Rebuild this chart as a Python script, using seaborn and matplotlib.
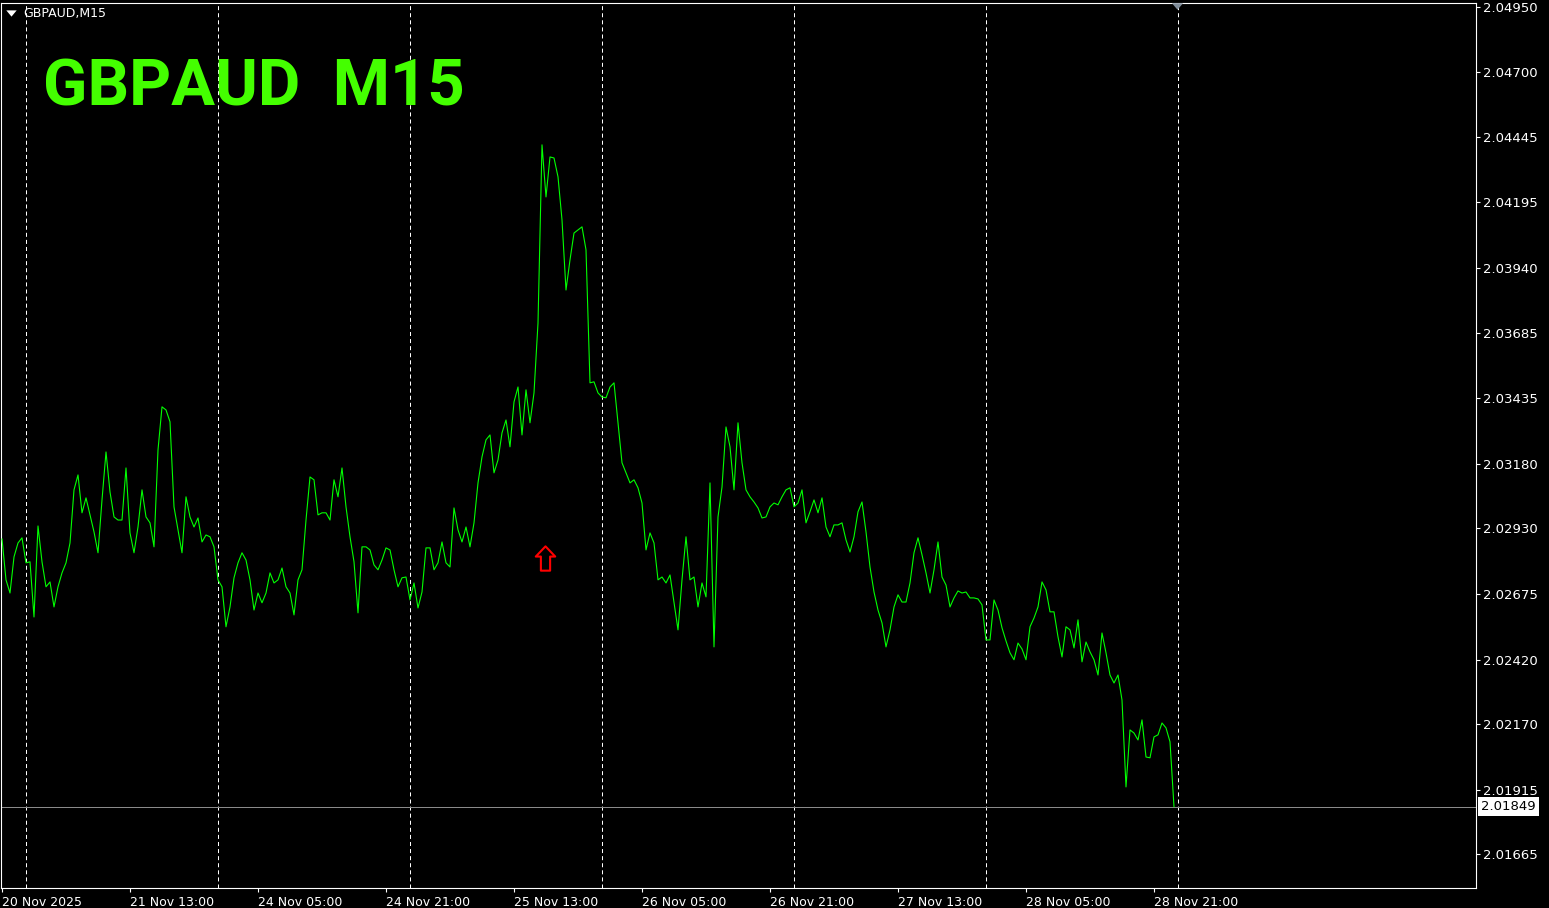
import numpy as np
import pandas as pd
import matplotlib
matplotlib.use("Agg")
import matplotlib.pyplot as plt
import matplotlib.transforms as mtransforms
from matplotlib.path import Path
import seaborn as sns

# ---------------- data ----------------
symbol_label = "GBPAUD,M15"
title_text = "GBPAUD  M15"

# close price sampled every 30 minutes (every 2nd M15 bar), 20 Nov 21:00 .. 28 Nov 23:30
close = [
    2.02888, 2.02729, 2.02678, 2.02818, 2.02872, 2.02892, 2.02795, 2.02799, 2.02585, 2.02938,
    2.02799, 2.02702, 2.02721, 2.02624, 2.02702, 2.02756, 2.02795, 2.02872, 2.03078, 2.03136,
    2.02989, 2.03047, 2.02981, 2.02915, 2.02834, 2.03039, 2.03225, 2.03070, 2.02973, 2.02961,
    2.02961, 2.03163, 2.02911, 2.02834, 2.02934, 2.03078, 2.02973, 2.02950, 2.02857, 2.03233,
    2.03400, 2.03388, 2.03342, 2.03012, 2.02923, 2.02834, 2.03051, 2.02973, 2.02934, 2.02969,
    2.02876, 2.02903, 2.02896, 2.02857, 2.02729, 2.02702, 2.02547, 2.02624, 2.02737, 2.02795,
    2.02834, 2.02806, 2.02729, 2.02612, 2.02678, 2.02640, 2.02678, 2.02756, 2.02717, 2.02729,
    2.02775, 2.02702, 2.02678, 2.02593, 2.02729, 2.02768, 2.02961, 2.03128, 2.03117, 2.02981,
    2.02989, 2.02989, 2.02961, 2.03117, 2.03051, 2.03163, 2.03012, 2.02896, 2.02799, 2.02601,
    2.02857, 2.02857, 2.02845, 2.02787, 2.02768, 2.02806, 2.02853, 2.02845, 2.02768, 2.02702,
    2.02737, 2.02740, 2.02651, 2.02717, 2.02620, 2.02682, 2.02853, 2.02853, 2.02768, 2.02795,
    2.02876, 2.02795, 2.02779, 2.03008, 2.02923, 2.02876, 2.02934, 2.02857, 2.02950, 2.03105,
    2.03206, 2.03272, 2.03291, 2.03144, 2.03194, 2.03299, 2.03349, 2.03245, 2.03419, 2.03477,
    2.03291, 2.03466, 2.03338, 2.03454, 2.03725, 2.04416, 2.04214, 2.04369, 2.04365, 2.04292,
    2.04125, 2.03853, 2.03970, 2.04074, 2.04086, 2.04098, 2.04009, 2.03493, 2.03497, 2.03454,
    2.03438, 2.03435, 2.03477, 2.03493, 2.03338, 2.03183, 2.03144, 2.03105, 2.03117, 2.03086,
    2.03027, 2.02845, 2.02911, 2.02872, 2.02729, 2.02740, 2.02717, 2.02748, 2.02640, 2.02535,
    2.02729, 2.02896, 2.02729, 2.02740, 2.02624, 2.02717, 2.02663, 2.03105, 2.02469, 2.02973,
    2.03089, 2.03322, 2.03245, 2.03078, 2.03338, 2.03183, 2.03078, 2.03051, 2.03031, 2.03008,
    2.02969, 2.02973, 2.03012, 2.03027, 2.03020, 2.03051, 2.03078, 2.03086, 2.03012, 2.03027,
    2.03078, 2.02950, 2.02993, 2.03039, 2.02989, 2.03047, 2.02934, 2.02896, 2.02942, 2.02942,
    2.02950, 2.02884, 2.02837, 2.02896, 2.02993, 2.03031, 2.02915, 2.02779, 2.02682, 2.02612,
    2.02562, 2.02469, 2.02535, 2.02624, 2.02671, 2.02643, 2.02643, 2.02717, 2.02834, 2.02892,
    2.02826, 2.02756, 2.02678, 2.02768, 2.02876, 2.02740, 2.02709, 2.02624, 2.02659, 2.02686,
    2.02678, 2.02682, 2.02659, 2.02659, 2.02655, 2.02632, 2.02496, 2.02496, 2.02651, 2.02612,
    2.02543, 2.02492, 2.02446, 2.02419, 2.02484, 2.02461, 2.02419, 2.02547, 2.02581, 2.02624,
    2.02721, 2.02690, 2.02605, 2.02605, 2.02508, 2.02430, 2.02547, 2.02535, 2.02465, 2.02574,
    2.02411, 2.02488, 2.02450, 2.02419, 2.02360, 2.02523, 2.02446, 2.02360, 2.02329, 2.02360,
    2.02263, 2.01926, 2.02147, 2.02135, 2.02108, 2.02186, 2.02042, 2.02039, 2.02120, 2.02128,
    2.02174, 2.02155, 2.02101, 2.01849,
]
bars_per_sample = 2  # M15 bars covered by each sample

xtick_bars = [0, 64, 128, 192, 256, 320, 384, 448, 512, 576]
xtick_labels = ["20 Nov 2025", "21 Nov 13:00", "24 Nov 05:00", "24 Nov 21:00",
                "25 Nov 13:00", "26 Nov 05:00", "26 Nov 21:00", "27 Nov 13:00",
                "28 Nov 05:00", "28 Nov 21:00"]
day_separator_bars = [12, 108, 204, 300, 396, 492, 588]

ytick_values = [2.04950, 2.04700, 2.04445, 2.04195, 2.03940, 2.03685, 2.03435,
                2.03180, 2.02930, 2.02675, 2.02420, 2.02170, 2.01915, 2.01665]
ytick_labels = ["2.04950", "2.04700", "2.04445", "2.04195", "2.03940", "2.03685", "2.03435",
                "2.03180", "2.02930", "2.02675", "2.02420", "2.02170", "2.01915", "2.01665"]

current_price = 2.01849
current_price_label = "2.01849"
signal_bar = 271.6
signal_price = 2.02813
shift_marker_bar = 587.7

x_range = (-0.5, 737.0)
y_range = (2.01534, 2.04968)

# ---------------- style ----------------
sns.set_theme(style="dark")
plt.rcParams.update({
    "figure.facecolor": "black",
    "axes.facecolor": "black",
    "savefig.facecolor": "black",
    "lines.scale_dashes": False,
})
plt.rcParams["font.family"] = ["DejaVu Sans"]

W, H = 1549, 908
fig = plt.figure(figsize=(W / 100, H / 100), dpi=100)
ax = fig.add_axes([1 / W, 1 - 888 / H, 1475 / W, 885.5 / H])
ax.set_facecolor("black")

df = pd.DataFrame({
    "bar": np.arange(len(close)) * bars_per_sample,
    "close": close,
})

# day separators
for b in day_separator_bars:
    ax.axvline(b, color="white", lw=0.72, linestyle=(0, (2.9, 2.2)), zorder=1)

# current price line
ax.axhline(current_price, color="#8a8a8a", lw=0.72, zorder=1.5)

sns.lineplot(data=df, x="bar", y="close", ax=ax, color="#00ff00", lw=0.8,
             estimator=None, zorder=3, antialiased=True)

ax.set_xlim(*x_range)
ax.set_ylim(*y_range)
ax.set_xlabel("")
ax.set_ylabel("")
ax.grid(False)

# spines
for s in ax.spines.values():
    s.set_visible(True)
    s.set_color("white")
    s.set_linewidth(0.8)

# ticks
ax.set_xticks(xtick_bars)
ax.set_xticklabels(xtick_labels, ha="left")
ax.yaxis.tick_right()
ax.set_yticks(ytick_values)
ax.set_yticklabels(ytick_labels)
ax.tick_params(axis="x", colors="white", direction="out", length=3, width=0.8,
               pad=2.5, labelsize=9, bottom=True)
ax.tick_params(axis="y", colors="white", direction="out", length=3, width=0.8,
               pad=2, labelsize=9.5, right=True, left=False)
for lbl in ax.get_xticklabels():
    lbl.set_color("white")
for lbl in ax.get_yticklabels():
    lbl.set_color("white")

# current price box on the right scale
ytrans = mtransforms.blended_transform_factory(ax.transAxes, ax.transData)
ax.text(1.0 + 5 / 1475, current_price, current_price_label, transform=ytrans,
        ha="left", va="center", fontsize=9.5, color="black", zorder=5, clip_on=False,
        bbox=dict(facecolor="white", edgecolor="none", boxstyle="square,pad=0.22"))

# red up arrow signal
arrow_verts = [(0, 0.5), (0.40, 0.08), (0.19, 0.08), (0.19, -0.5), (-0.19, -0.5),
               (-0.19, 0.08), (-0.40, 0.08), (0, 0.5)]
arrow_path = Path(arrow_verts, [Path.MOVETO] + [Path.LINETO] * 6 + [Path.CLOSEPOLY])
ax.plot([signal_bar], [signal_price], marker=arrow_path, markersize=17.5,
        markerfacecolor="black", markeredgecolor="#ff0000", markeredgewidth=1.5,
        linestyle="none", zorder=4)

# chart shift marker at top
tri_path = Path([(-0.5, 0.29), (0.5, 0.29), (0, -0.29), (-0.5, 0.29)],
                [Path.MOVETO, Path.LINETO, Path.LINETO, Path.CLOSEPOLY])
xtrans = mtransforms.blended_transform_factory(ax.transData, ax.transAxes)
ax.plot([shift_marker_bar], [1 - 3.4 / 885.5], marker=tri_path, markersize=8,
        color="#7f8c99", markeredgewidth=0, linestyle="none", transform=xtrans,
        clip_on=False, zorder=6)

# top-left symbol label
down_tri = Path([(-0.5, 0.3), (0.5, 0.3), (0, -0.3), (-0.5, 0.3)],
                [Path.MOVETO, Path.LINETO, Path.LINETO, Path.CLOSEPOLY])
fig.lines.append(matplotlib.lines.Line2D([10.7 / W], [1 - 13 / H], marker=down_tri,
                                         markersize=7.5, color="white", markeredgewidth=0,
                                         linestyle="none", transform=fig.transFigure))
fig.text(23 / W, 1 - 14 / H, symbol_label, color="white", fontsize=9, ha="left", va="center")

# big title
fig.text(43 / W, 1 - 106 / H, title_text, color="#44ff00", fontsize=47,
         family=["Roboto", "DejaVu Sans"], fontweight="bold", ha="left", va="baseline",
         zorder=10)

fig.savefig("out.png", dpi=100, facecolor="black")
